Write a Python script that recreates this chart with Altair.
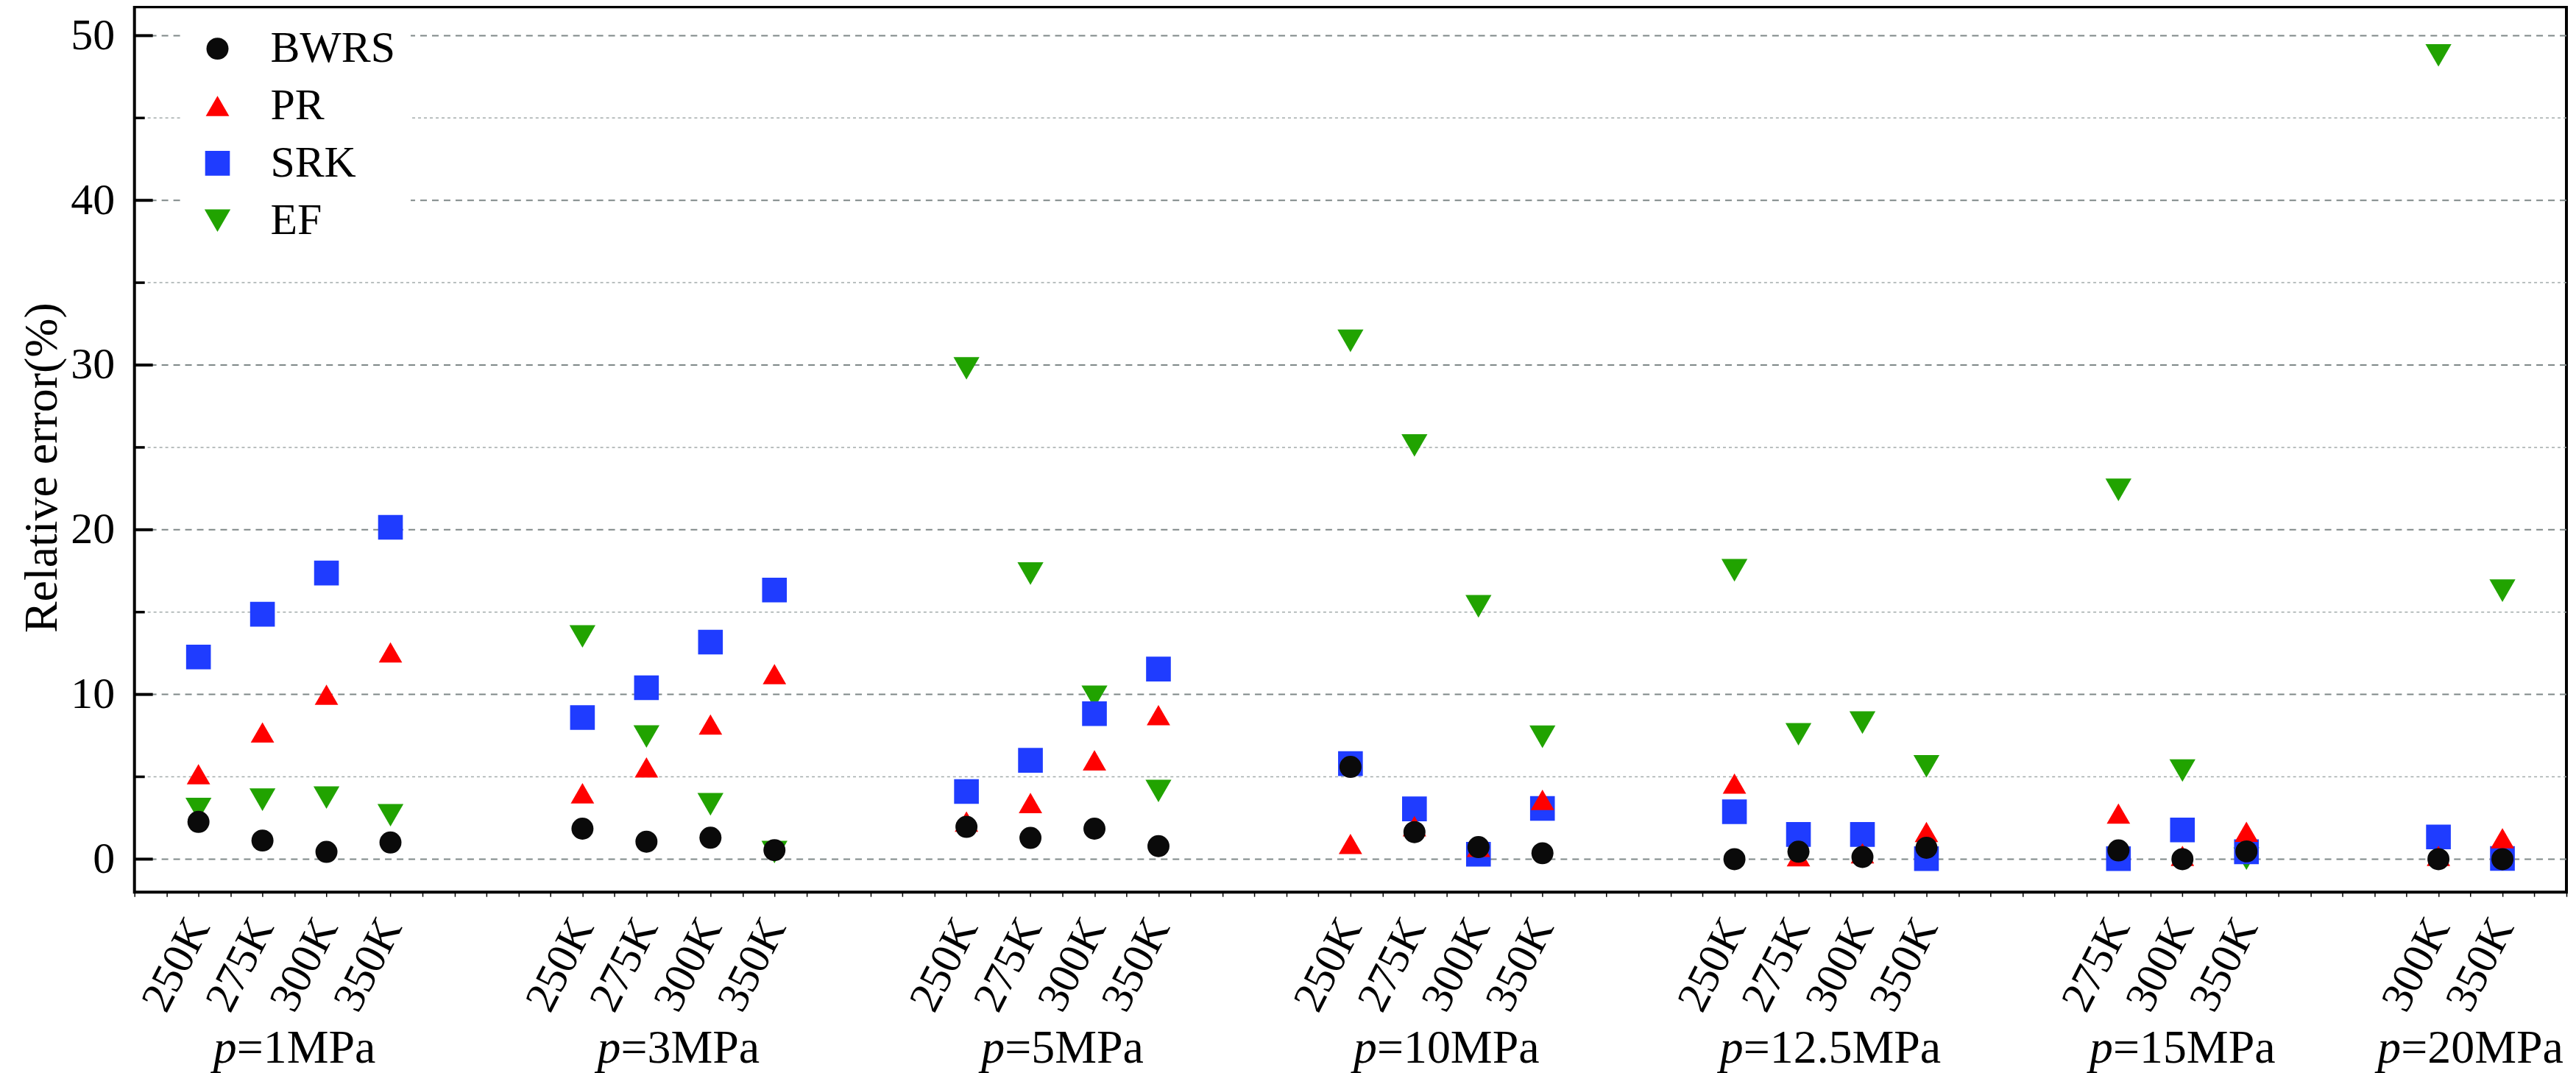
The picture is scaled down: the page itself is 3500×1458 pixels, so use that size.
import altair as alt
import pandas as pd

# ---------------- data ----------------
pressures = ['1', '3', '5', '10', '12.5', '15', '20']
group_temps = [
    ['250K', '275K', '300K', '350K'],
    ['250K', '275K', '300K', '350K'],
    ['250K', '275K', '300K', '350K'],
    ['250K', '275K', '300K', '350K'],
    ['250K', '275K', '300K', '350K'],
    ['275K', '300K', '350K'],
    ['300K', '350K'],
]
bwrs = [2.26, 1.13, 0.44, 1.01,  1.85, 1.06, 1.30, 0.55,  1.96, 1.29, 1.85, 0.79,
        5.60, 1.64, 0.73, 0.36,  0.00, 0.45, 0.13, 0.69,  0.53, 0.00, 0.47,  0.00, 0.00]
pr = [5.16, 7.69, 9.98, 12.55,  4.00, 5.57, 8.17, 11.23,  2.28, 3.41, 6.00, 8.74,
      0.92, 2.00, 0.75, 3.60,  4.59, 0.18, 0.35, 1.65,  2.77, 0.20, 1.66,  0.20, 1.27]
srk = [12.27, 14.87, 17.37, 20.15,  8.60, 10.41, 13.18, 16.34,  4.11, 6.00, 8.83, 11.54,
       5.80, 3.05, 0.30, 3.08,  2.88, 1.50, 1.50, 0.03,  0.03, 1.77, 0.45,  1.35, 0.04]
ef = [3.04, 3.61, 3.74, 2.67,  13.52, 7.45, 3.33, 0.43,  29.80, 17.34, 9.86, 4.14,
      31.47, 25.12, 15.35, 7.43,  17.54, 7.58, 8.29, 5.64,  22.42, 5.38, 0.03,  48.80, 16.30]

models = ['BWRS', 'PR', 'SRK', 'EF']
colors = ['#0a0a0a', '#ff0000', '#1f3cff', '#21a300']
shapes = ['circle', 'triangle-up', 'square', 'triangle-down']
sizes = [900, 1250, 700, 1250]
draw_order = ['EF', 'SRK', 'PR', 'BWRS']

y_major = [0, 10, 20, 30, 40, 50]
y_minor = [5, 15, 25, 35, 45]

# ---------------- layout of categorical slots ----------------
cats = []
i = 1
for g, temps in zip(pressures, group_temps):
    for t in temps:
        cats.append((i, t, g))
        i += 1
    i += 2
X_MAX = cats[-1][0] + 1

series = {'BWRS': bwrs, 'PR': pr, 'SRK': srk, 'EF': ef}
rows = []
for z, name in enumerate(draw_order):
    for (idx, t, g), v in zip(cats, series[name]):
        rows.append({'idx': idx, 'temp': t, 'pressure': g, 'model': name, 'value': v, 'z': z})
df = pd.DataFrame(rows)

W_PLOT = 3310
H_PLOT = 1205
FONT = 'Liberation Serif'
ppu = W_PLOT / X_MAX

# Times-like advance widths (em) for centering the two-part group labels
cw = {'p': 0.5, '=': 0.564, '.': 0.25, 'M': 0.889, 'P': 0.556, 'a': 0.444}
for d in '0123456789':
    cw[d] = 0.5
GFS = 64
glab_rows = []
for g in pressures:
    idxs = [c[0] for c in cats if c[2] == g]
    center = sum(idxs) / len(idxs)
    rest = '=' + g + 'MPa'
    wp = cw['p'] * GFS
    wr = sum(cw[ch] for ch in rest) * GFS
    anchor = center + (wp - (wp + wr) / 2) / ppu
    glab_rows.append({'anchor': anchor, 'p': 'p', 'rest': rest})
glab = pd.DataFrame(glab_rows)

x_scale = alt.Scale(domain=[0, X_MAX], nice=False, zero=False)
y_scale = alt.Scale(domain=[-2, 51.75], nice=False, zero=False)

label_idx = [c[0] for c in cats]
label_txt = [c[1] for c in cats]
label_expr = (f"indexof({label_idx}, datum.value) < 0 ? '' : "
              f"{label_txt}[indexof({label_idx}, datum.value)]")

x_axis = alt.Axis(values=[k * 0.5 for k in range(2 * X_MAX + 1)], labelExpr=label_expr,
                  labelAngle=-63, labelAlign='right', labelBaseline='middle', labelPadding=33,
                  labelFontSize=60, labelFont=FONT, labelColor='black', labelOverlap=False,
                  labelFlush=False, labelLimit=0, tickSize=6, tickWidth=1.5, tickColor='black',
                  domain=False, grid=False, title=None)
y_axis = alt.Axis(values=y_major, labelFontSize=60, labelFont=FONT, labelColor='black',
                  labelPadding=27, ticks=False, domain=False, grid=False,
                  title='Relative error(%)', titleFont=FONT, titleFontSize=64,
                  titleFontWeight='normal', titleColor='black', titleX=-106, titleY=627,
                  titleBaseline='alphabetic', titleLimit=0)

legend = alt.Legend(title=None, orient='none', legendX=63, legendY=7, labelFont=FONT,
                    labelFontSize=60, labelColor='black', labelOffset=42, rowPadding=18,
                    padding=20, fillColor='white', symbolStrokeWidth=0, symbolOpacity=1,
                    labelLimit=0)

Y_rule = lambda: alt.Y('v:Q', scale=y_scale, axis=y_axis, title='Relative error(%)')

grid_minor = alt.Chart(pd.DataFrame({'v': y_minor})).mark_rule(
    color='#a3abab', strokeWidth=1.5, strokeDash=[4, 4]).encode(y=Y_rule())
grid_major = alt.Chart(pd.DataFrame({'v': y_major})).mark_rule(
    color='#7f8888', strokeWidth=2, strokeDash=[9, 7]).encode(y=Y_rule())
tick_major = alt.Chart(pd.DataFrame({'v': y_major})).mark_rule(
    color='black', strokeWidth=4).encode(y=Y_rule(), x=alt.value(0), x2=alt.value(25))
tick_minor = alt.Chart(pd.DataFrame({'v': y_minor})).mark_rule(
    color='black', strokeWidth=3.5).encode(y=Y_rule(), x=alt.value(0), x2=alt.value(14))

points = alt.Chart(df).mark_point(filled=True, opacity=1, strokeWidth=0).encode(
    x=alt.X('idx:Q', scale=x_scale, axis=x_axis),
    y=alt.Y('value:Q', scale=y_scale, axis=y_axis, title='Relative error(%)'),
    color=alt.Color('model:N', scale=alt.Scale(domain=models, range=colors), legend=legend),
    shape=alt.Shape('model:N', scale=alt.Scale(domain=models, range=shapes), legend=legend),
    size=alt.Size('model:N', scale=alt.Scale(domain=models, range=sizes), legend=legend),
    order=alt.Order('z:Q'),
)

p_text = alt.Chart(glab).mark_text(font=FONT, fontSize=GFS, fontStyle='italic', align='right',
                                   baseline='alphabetic', color='black').encode(
    x=alt.X('anchor:Q', scale=x_scale, axis=x_axis), y=alt.value(1437), text='p:N')
rest_text = alt.Chart(glab).mark_text(font=FONT, fontSize=GFS, align='left',
                                      baseline='alphabetic', color='black').encode(
    x=alt.X('anchor:Q', scale=x_scale, axis=x_axis), y=alt.value(1437), text='rest:N')

chart = alt.layer(grid_minor, grid_major, points, tick_major, tick_minor, p_text, rest_text).properties(
    width=W_PLOT, height=H_PLOT,
    autosize=alt.AutoSizeParams(type='none'),
    padding={'left': 175, 'top': 0, 'right': 5, 'bottom': 245},
    background='white',
).configure_view(stroke='black', strokeWidth=4)

chart.save('out.html', embed_options={'renderer': 'svg', 'actions': False})
